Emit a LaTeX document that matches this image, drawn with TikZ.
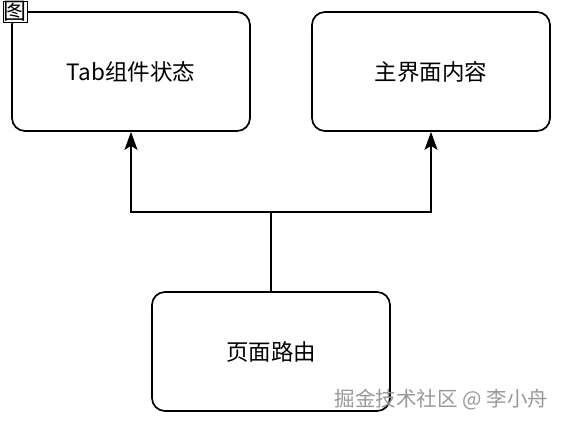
\documentclass[tikz,border=0pt]{standalone}
\usepackage{fontspec}
\setmainfont{Noto Sans CJK SC}
\usetikzlibrary{arrows.meta}
\tikzset{
  statebox/.style={draw,line width=1.7pt,rounded corners=13pt,fill=white,
    minimum width=238pt,minimum height=119pt,font=\fontsize{22.5}{27}\selectfont},
  flow/.style={line width=1.7pt,-{Stealth[length=18pt,width=13pt,inset=4pt]}}
}
\begin{document}
\begin{tikzpicture}[x=1pt,y=-1pt]
  \useasboundingbox (0,0) rectangle (564,424);
  \node[statebox] (tab) at (131,71.5) {Tab组件状态};
  \node[statebox] (main) at (431,71.5) {主界面内容};
  \node[statebox] (route) at (271,351.5) {页面路由};
  \coordinate (junction) at (271,212);
  \draw[line width=1.7pt] (route.north) -- (junction);
  \draw[flow] (junction) -| (tab.south);
  \draw[flow] (junction) -| (main.south);
  \node[draw,line width=0.8pt,fill=white,inner sep=0.5pt,font=\fontsize{23}{26}\selectfont] (tag) at (15.5,11.5) {图};
  \node[text=gray!80,font=\fontsize{20.5}{24}\selectfont] (mark) at (441.5,400) {掘金技术社区 @ 李小舟};
\end{tikzpicture}
\end{document}
